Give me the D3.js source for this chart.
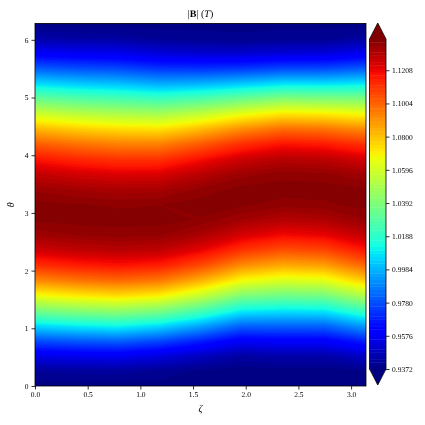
<!DOCTYPE html>
<html>
<head>
<meta charset="utf-8">
<script src="https://cdn.jsdelivr.net/npm/d3@7"></script>
<style>
  body { margin: 0; background: #fff; }
  svg { will-change: transform; }
  svg text { font-family: "Liberation Serif", "DejaVu Serif", serif; fill: #000; text-rendering: geometricPrecision; }
  .tick line, .frame { stroke: #000; stroke-width: 0.8; }
</style>
</head>
<body>
<div id="chart"></div>
<script>
// toroidal angle zeta (columns) and poloidal angle theta (rows), radians
const zeta = [0, 0.3927, 0.7854, 1.1781, 1.5708, 1.9635, 2.3562, 2.7489, 3.1416];
const theta = [0, 0.2618, 0.5236, 0.7854, 1.0472, 1.3090, 1.5708, 1.8326, 2.0944, 2.3562, 2.6180, 2.8798,
    3.1416, 3.4034, 3.6652, 3.9270, 4.1888, 4.4506, 4.7124, 4.9742, 5.2360, 5.4978, 5.7596, 6.0214, 6.2832];

// |B| (T), one row per theta, one value per zeta column
const bField = [
    [0.9380, 0.9378, 0.9377, 0.9382, 0.9387, 0.9390, 0.9387, 0.9386, 0.9376],
    [0.9415, 0.9422, 0.9426, 0.9407, 0.9388, 0.9376, 0.9381, 0.9380, 0.9391],
    [0.9555, 0.9572, 0.9580, 0.9542, 0.9489, 0.9435, 0.9448, 0.9445, 0.9500],
    [0.9782, 0.9809, 0.9825, 0.9774, 0.9690, 0.9592, 0.9606, 0.9604, 0.9694],
    [1.0067, 1.0106, 1.0128, 1.0074, 0.9962, 0.9828, 0.9829, 0.9831, 0.9950],
    [1.0376, 1.0422, 1.0449, 1.0398, 1.0270, 1.0108, 1.0088, 1.0098, 1.0238],
    [1.0671, 1.0720, 1.0748, 1.0706, 1.0574, 1.0402, 1.0359, 1.0377, 1.0524],
    [1.0925, 1.0971, 1.0997, 1.0965, 1.0845, 1.0680, 1.0620, 1.0642, 1.0786],
    [1.1121, 1.1160, 1.1181, 1.1159, 1.1063, 1.0920, 1.0854, 1.0879, 1.1003],
    [1.1260, 1.1287, 1.1302, 1.1289, 1.1221, 1.1111, 1.1050, 1.1072, 1.1171],
    [1.1345, 1.1360, 1.1368, 1.1362, 1.1324, 1.1250, 1.1200, 1.1219, 1.1287],
    [1.1385, 1.1390, 1.1391, 1.1391, 1.1377, 1.1339, 1.1306, 1.1319, 1.1358],
    [1.1389, 1.1382, 1.1376, 1.1379, 1.1391, 1.1384, 1.1369, 1.1375, 1.1390],
    [1.1355, 1.1338, 1.1327, 1.1332, 1.1366, 1.1390, 1.1392, 1.1392, 1.1383],
    [1.1286, 1.1258, 1.1238, 1.1243, 1.1300, 1.1351, 1.1372, 1.1366, 1.1339],
    [1.1177, 1.1137, 1.1111, 1.1115, 1.1189, 1.1266, 1.1306, 1.1295, 1.1252],
    [1.1025, 1.0978, 1.0946, 1.0945, 1.1029, 1.1123, 1.1181, 1.1166, 1.1114],
    [1.0830, 1.0778, 1.0745, 1.0735, 1.0817, 1.0919, 1.0989, 1.0973, 1.0922],
    [1.0597, 1.0545, 1.0514, 1.0494, 1.0560, 1.0655, 1.0728, 1.0713, 1.0677],
    [1.0338, 1.0292, 1.0264, 1.0233, 1.0276, 1.0348, 1.0413, 1.0403, 1.0394],
    [1.0069, 1.0032, 1.0010, 0.9971, 0.9987, 1.0029, 1.0078, 1.0076, 1.0095],
    [0.9813, 0.9786, 0.9770, 0.9730, 0.9724, 0.9738, 0.9770, 0.9772, 0.9813],
    [0.9595, 0.9578, 0.9569, 0.9533, 0.9517, 0.9515, 0.9533, 0.9538, 0.9580],
    [0.9443, 0.9434, 0.9430, 0.9410, 0.9399, 0.9394, 0.9401, 0.9403, 0.9428],
    [0.9380, 0.9378, 0.9377, 0.9382, 0.9387, 0.9390, 0.9387, 0.9386, 0.9376]
];

const xTicks = [0, 0.5, 1.0, 1.5, 2.0, 2.5, 3.0];
const yTicks = [0, 1, 2, 3, 4, 5, 6];
const cbTicks = [0.9372, 0.9576, 0.9780, 0.9984, 1.0188, 1.0392, 1.0596, 1.0800, 1.1004, 1.1208];
const vMin = 0.9372, vMax = 1.1400, nLevels = 100;

const W = 425, H = 425;
const plot = {left: 35, right: 366, top: 23.5, bottom: 386};
const cbar = {left: 369.5, right: 386, top: 39, bottom: 369, ext: 16};

const svg = d3.select("#chart").append("svg")
    .attr("width", W)
    .attr("height", H);

// matplotlib jet, channel by channel
const jetR = d3.scaleLinear().domain([0, 0.35, 0.66, 0.89, 1]).range([0, 0, 1, 1, 0.5]).clamp(true);
const jetG = d3.scaleLinear().domain([0, 0.125, 0.375, 0.64, 0.91, 1]).range([0, 0, 1, 1, 0, 0]).clamp(true);
const jetB = d3.scaleLinear().domain([0, 0.11, 0.34, 0.65, 1]).range([0.5, 1, 1, 0, 0]).clamp(true);
const jet = t => d3.rgb(jetR(t) * 255, jetG(t) * 255, jetB(t) * 255).formatHex();

const levels = d3.range(nLevels + 1).map(i => vMin + i * (vMax - vMin) / nLevels);
const norm = d3.scaleLinear().domain([vMin, vMax]).range([0, 1]);
const bandColor = i => i >= nLevels ? jet(1) : jet(norm((levels[i] + levels[i + 1]) / 2));

const x = d3.scaleLinear().domain([0, Math.PI]).range([plot.left, plot.right]);
const y = d3.scaleLinear().domain([0, 2 * Math.PI]).range([plot.bottom, plot.top]);

// grid cell centres -> data coordinates
const gx = d3.scaleLinear().domain([0.5, zeta.length - 0.5]).range([x(zeta[0]), x(zeta[zeta.length - 1])]);
const gy = d3.scaleLinear().domain([0.5, theta.length - 0.5]).range([y(theta[0]), y(theta[theta.length - 1])]);
const path = d3.geoPath(d3.geoTransform({
    point(px, py) { this.stream.point(gx(px), gy(py)); }
}));

svg.append("clipPath").attr("id", "clip")
    .append("rect")
    .attr("x", plot.left).attr("y", plot.top)
    .attr("width", plot.right - plot.left).attr("height", plot.bottom - plot.top);

const field = svg.append("g").attr("clip-path", "url(#clip)");

// values under vMin
field.append("rect")
    .attr("x", plot.left).attr("y", plot.top)
    .attr("width", plot.right - plot.left).attr("height", plot.bottom - plot.top)
    .attr("fill", jet(0));

const contours = d3.contours()
    .size([zeta.length, theta.length])
    .thresholds(levels)(bField.flat());

field.selectAll("path")
    .data(contours)
    .enter().append("path")
    .attr("d", path)
    .attr("fill", (d, i) => bandColor(i));

svg.append("rect").attr("class", "frame")
    .attr("x", plot.left).attr("y", plot.top)
    .attr("width", plot.right - plot.left).attr("height", plot.bottom - plot.top)
    .attr("fill", "none");

// axes
const xAxis = svg.append("g")
    .attr("transform", `translate(0, ${plot.bottom})`)
    .call(d3.axisBottom(x).tickValues(xTicks).tickFormat(d3.format(".1f")).tickSize(3.5).tickPadding(2.5));
const yAxis = svg.append("g")
    .attr("transform", `translate(${plot.left}, 0)`)
    .call(d3.axisLeft(y).tickValues(yTicks).tickFormat(d3.format("d")).tickSize(3.5).tickPadding(3));

[xAxis, yAxis].forEach(a => {
    a.select(".domain").remove();
    a.selectAll("text").attr("font-size", 7.5).attr("fill", "#000");
});

// colorbar
const cb = d3.scaleLinear().domain([vMin, vMax]).range([cbar.bottom, cbar.top]);
const cbg = svg.append("g");
const mid = (cbar.left + cbar.right) / 2;

cbg.selectAll("rect")
    .data(d3.range(nLevels))
    .enter().append("rect")
    .attr("x", cbar.left)
    .attr("width", cbar.right - cbar.left)
    .attr("y", i => cb(levels[i + 1]))
    .attr("height", i => cb(levels[i]) - cb(levels[i + 1]) + 0.4)
    .attr("fill", i => bandColor(i));

cbg.append("path")
    .attr("d", `M${cbar.left},${cbar.top + 0.3}L${mid},${cbar.top - cbar.ext}L${cbar.right},${cbar.top + 0.3}Z`)
    .attr("fill", jet(1));
cbg.append("path")
    .attr("d", `M${cbar.left},${cbar.bottom - 0.3}L${mid},${cbar.bottom + cbar.ext}L${cbar.right},${cbar.bottom - 0.3}Z`)
    .attr("fill", jet(0));

cbg.append("path").attr("class", "frame")
    .attr("d", `M${cbar.left},${cbar.top}L${mid},${cbar.top - cbar.ext}L${cbar.right},${cbar.top}` +
        `L${cbar.right},${cbar.bottom}L${mid},${cbar.bottom + cbar.ext}L${cbar.left},${cbar.bottom}Z`)
    .attr("fill", "none")
    .attr("stroke", "#333");

const cbAxis = svg.append("g")
    .attr("transform", `translate(${cbar.right}, 0)`)
    .call(d3.axisRight(cb).tickValues(cbTicks).tickFormat(d3.format(".4f")).tickSize(3.5).tickPadding(2.5));
cbAxis.select(".domain").remove();
cbAxis.selectAll("text").attr("font-size", 7.5).attr("fill", "#000");

// title and labels
const title = svg.append("text")
    .attr("x", (plot.left + plot.right) / 2)
    .attr("y", 17)
    .attr("text-anchor", "middle")
    .attr("font-size", 10);
title.append("tspan").text("|");
title.append("tspan").attr("font-weight", "bold").text("B");
title.append("tspan").text("| (");
title.append("tspan").attr("font-style", "italic").text("T");
title.append("tspan").text(")");

svg.append("text")
    .attr("x", (plot.left + plot.right) / 2)
    .attr("y", 412)
    .attr("text-anchor", "middle")
    .attr("font-size", 10)
    .attr("font-style", "italic")
    .text("ζ");

svg.append("text")
    .attr("transform", `translate(14, ${(plot.top + plot.bottom) / 2}) rotate(-90)`)
    .attr("text-anchor", "middle")
    .attr("font-size", 10)
    .attr("font-style", "italic")
    .text("θ");
</script>
</body>
</html>
